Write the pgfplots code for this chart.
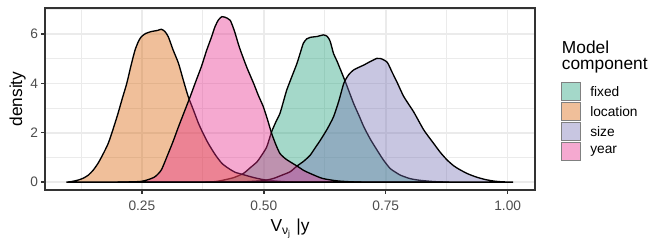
\documentclass[border=0pt]{standalone}
\usepackage{pgfplots}
\pgfplotsset{compat=1.18}
\usepackage{fontspec}
\setmainfont{Liberation Sans}
\definecolor{cfixed}{HTML}{1B9E77}
\definecolor{clocation}{HTML}{D95F02}
\definecolor{csize}{HTML}{7570B3}
\definecolor{cyear}{HTML}{E7298A}
\definecolor{gridc}{HTML}{EBEBEB}
\definecolor{borderc}{HTML}{333333}
\definecolor{tickc}{HTML}{4D4D4D}
\newcommand{\ticksize}{\fontsize{10.3}{12}\selectfont}
\newcommand{\titlesize}{\fontsize{13}{15.5}\selectfont}
\begin{document}
\begin{tikzpicture}
\useasboundingbox (-33.75pt,-44.25pt) rectangle (464.25pt,142.5pt);
\begin{axis}[
  at={(0pt,0pt)}, anchor=south west,
  scale only axis, width=367.5pt, height=136.5pt,
  xmin=0.0513, xmax=1.056, ymin=-0.32, ymax=7.05,
  xtick={0.25,0.5,0.75,1}, xticklabels={0.25,0.50,0.75,1.00},
  minor xtick={0.125,0.375,0.625,0.875},
  ytick={0,2,4,6}, minor ytick={1,3,5,7},
  grid=both,
  major grid style={draw=gridc, line width=1.2pt},
  minor grid style={draw=gridc, line width=0.6pt},
  axis line style={draw=borderc, line width=1.0pt},
  tick align=outside, xtick pos=bottom, ytick pos=left,
  major tick length=3pt, minor tick length=0pt,
  major tick style={draw=borderc, line width=1.0pt},
  /pgf/number format/assume math mode=true,
  tick label style={font=\ticksize, text=tickc, inner sep=0pt},
  xticklabel style={anchor=base, yshift=-12.2pt},
  yticklabel style={anchor=east, xshift=-2pt},
  clip=true,
]
% fixed
\addplot[draw=black, line width=1.0pt, fill=cfixed, fill opacity=0.4, smooth, tension=0.4] coordinates {
(0.38,0) (0.40,0.02) (0.417,0.08) (0.438,0.18) (0.458,0.35) (0.472,0.58) (0.486,0.82)
(0.496,1.10) (0.506,1.43) (0.516,2.04) (0.525,2.45) (0.533,2.78) (0.540,3.25) (0.547,3.73)
(0.558,4.30) (0.568,4.81) (0.575,5.25) (0.581,5.62) (0.588,5.80) (0.595,5.86) (0.610,5.90)
(0.622,5.96) (0.630,5.90) (0.636,5.70) (0.643,5.20) (0.650,4.90) (0.667,4.07) (0.684,3.19)
(0.695,2.70) (0.705,2.24) (0.718,1.75) (0.732,1.30) (0.745,0.90) (0.759,0.55) (0.770,0.40)
(0.780,0.28) (0.800,0.14) (0.821,0.07) (0.85,0.02) (0.88,0)
} \closedcycle;
% location
\addplot[draw=black, line width=1.0pt, fill=clocation, fill opacity=0.4, smooth, tension=0.4] coordinates {
(0.095,0) (0.105,0.02) (0.119,0.08) (0.130,0.16) (0.140,0.28) (0.150,0.48) (0.160,0.76)
(0.170,1.12) (0.181,1.57) (0.191,2.15) (0.201,2.78) (0.210,3.40) (0.219,4.00) (0.228,4.75)
(0.236,5.35) (0.243,5.70) (0.249,5.89) (0.258,6.02) (0.270,6.10) (0.282,6.14) (0.290,6.19)
(0.297,6.10) (0.304,5.89) (0.314,5.35) (0.325,4.81) (0.335,4.12) (0.345,3.46) (0.356,2.90)
(0.366,2.38) (0.376,1.95) (0.386,1.57) (0.400,1.12) (0.414,0.76) (0.428,0.55) (0.441,0.40)
(0.458,0.30) (0.480,0.18) (0.499,0.10) (0.52,0.05) (0.54,0.02) (0.56,0)
} \closedcycle;
% size
\addplot[draw=black, line width=1.0pt, fill=csize, fill opacity=0.4, smooth, tension=0.4] coordinates {
(0.45,0) (0.478,0.03) (0.50,0.06) (0.52,0.15) (0.537,0.28) (0.554,0.42) (0.568,0.65)
(0.582,0.85) (0.595,1.09) (0.605,1.38) (0.616,1.70) (0.630,2.15) (0.643,2.65) (0.654,3.30)
(0.664,4.00) (0.674,4.35) (0.684,4.54) (0.695,4.65) (0.705,4.74) (0.718,4.88) (0.732,5.01)
(0.740,5.00) (0.753,4.85) (0.763,4.45) (0.773,4.05) (0.787,3.46) (0.807,2.85) (0.828,2.11)
(0.848,1.57) (0.862,1.20) (0.876,0.89) (0.890,0.65) (0.903,0.49) (0.920,0.32) (0.938,0.19)
(0.955,0.10) (0.972,0.04) (0.99,0.01) (1.011,0)
} \closedcycle;
% year
\addplot[draw=black, line width=1.0pt, fill=cyear, fill opacity=0.4, smooth, tension=0.4] coordinates {
(0.20,0) (0.23,0.01) (0.249,0.03) (0.263,0.10) (0.277,0.22) (0.290,0.50) (0.304,1.16)
(0.314,1.65) (0.325,2.24) (0.337,2.85) (0.349,3.46) (0.360,4.05) (0.372,4.68) (0.383,5.35)
(0.393,5.89) (0.400,6.30) (0.407,6.57) (0.414,6.70) (0.420,6.68) (0.431,6.55) (0.440,6.10)
(0.450,5.45) (0.465,4.65) (0.479,4.00) (0.489,3.50) (0.499,3.05) (0.508,2.50) (0.516,1.97)
(0.525,1.50) (0.533,1.16) (0.544,0.95) (0.554,0.82) (0.568,0.65) (0.582,0.47) (0.595,0.35)
(0.62,0.15) (0.65,0.05) (0.68,0.01) (0.70,0)
} \closedcycle;
\end{axis}
% axis titles
\node[anchor=base, font=\titlesize] at (183.75pt,-31.3pt) {V\textsubscript{ν\textsubscript{j}} |y};
\node[anchor=base, rotate=90, font=\titlesize] at (-17.25pt,68.25pt) {density};
% legend
\node[anchor=base west, font=\titlesize, inner sep=0pt] at (387.5pt,102.4pt) {Model};
\node[anchor=base west, font=\titlesize, inner sep=0pt] at (387.5pt,90.0pt) {component};
\foreach \c/\lab/\yc in {cfixed/fixed/74.1, clocation/location/59.1, csize/size/44.1, cyear/year/29.1}{
  \filldraw[fill=\c, fill opacity=0.4, draw=black!50, line width=0.5pt]
    (387.5pt,\yc pt-6.6pt) rectangle (401.75pt,\yc pt+6.6pt);
  \node[anchor=west, font=\ticksize, inner sep=0pt] at (408.75pt,\yc pt) {\lab};
}
\end{tikzpicture}
\end{document}
